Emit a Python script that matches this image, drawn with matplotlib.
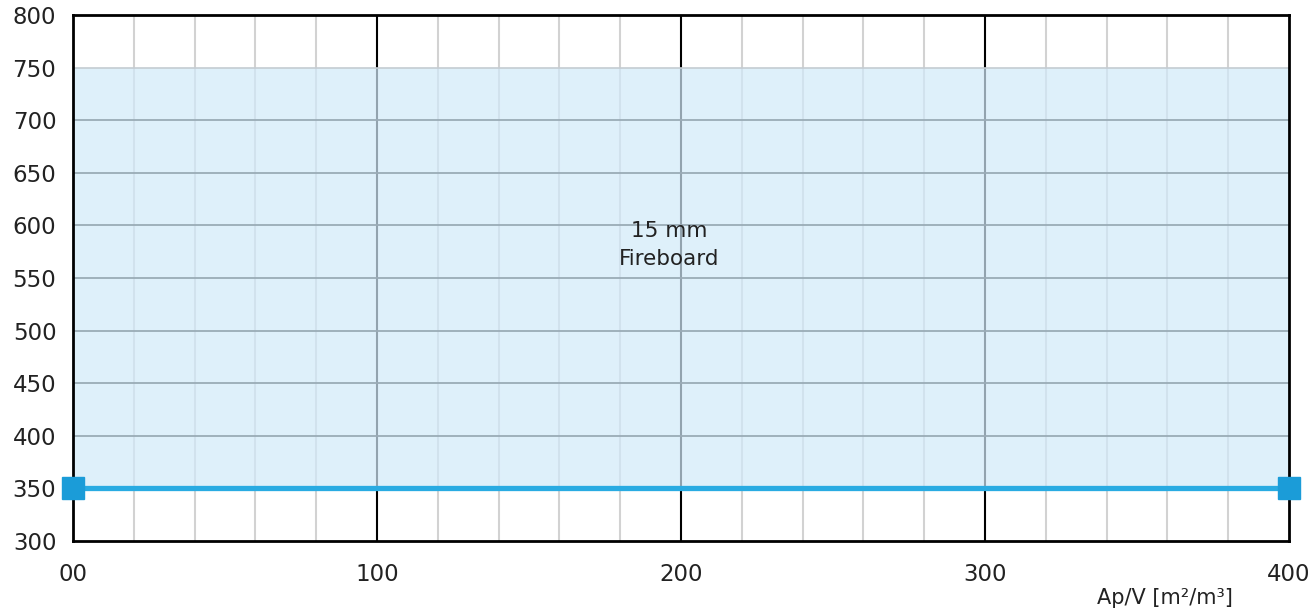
import numpy as np
import matplotlib.pyplot as plt

plt.rcParams['font.family'] = ['DejaVu Sans']

# data
ap_v = [0, 400]
temp = [350, 350]
band_low, band_high = 350, 750
x_ticks = [0, 100, 200, 300, 400]
x_labels = ['00', '100', '200', '300', '400']
x_minor = [20, 40, 60, 80, 120, 140, 160, 180, 220, 240, 260, 280, 320, 340, 360, 380]
y_ticks = [300, 350, 400, 450, 500, 550, 600, 650, 700, 750, 800]
y_grid = [400, 450, 500, 550, 600, 650, 700]

fig = plt.figure(figsize=(13.11, 6.10), dpi=100)
ax = fig.add_axes([73/1311, 1-541/610, 1216/1311, 526/610])
ax.set_xlim(0, 400)
ax.set_ylim(300, 800)

# grid lines (under the shaded band)
ax.vlines(x_minor, 300, 800, color='#d2d2d2', lw=1.5, zorder=1)
ax.vlines(x_ticks[1:-1], 300, 800, color='black', lw=1.5, zorder=1)
ax.hlines(y_grid, 0, 400, color='#1a1a1a', lw=1.3, zorder=1)

ax.fill_between([0, 400], band_low, band_high, color=(209/255, 234/255, 249/255),
                alpha=0.7, lw=0, zorder=2)
ax.hlines([band_high], 0, 400, color='#c4ccd2', lw=1.2, zorder=2.1)

ax.plot(ap_v, temp, color='#29abe2', lw=3.8, zorder=4)
ax.plot(ap_v, temp, 's', color='#1b9cd8', markersize=16, clip_on=False, zorder=5)

ax.text(196, 581, '15 mm\nFireboard', ha='center', va='center',
        fontsize=15.5, color='#222222', linespacing=1.5, zorder=6)

for s in ax.spines.values():
    s.set_linewidth(2)
    s.set_color('black')

ax.set_xticks(x_ticks)
ax.set_xticklabels(x_labels)
ax.set_yticks(y_ticks)
ax.tick_params(axis='both', length=0, labelsize=16.5, colors='#222222')
ax.tick_params(axis='x', pad=16)
ax.tick_params(axis='y', pad=12)

fig.text(1165/1311, 1-598/610, 'Ap/V [m²/m³]', ha='center', va='center',
         fontsize=15, color='#222222')

fig.savefig('out.png', dpi=100)
